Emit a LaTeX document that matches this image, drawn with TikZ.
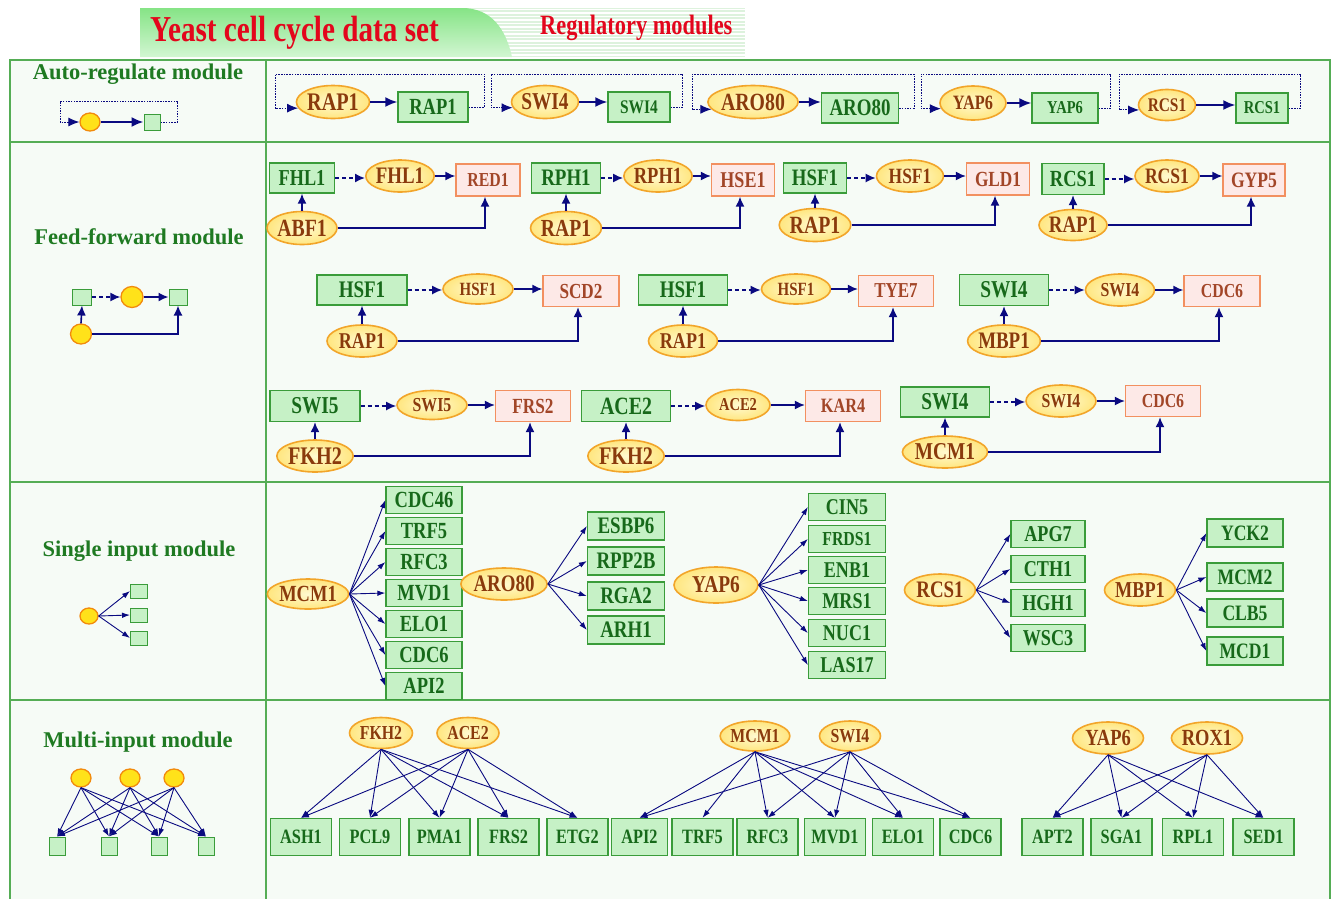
\documentclass[tikz,border=0pt]{standalone}
\usepackage{fontspec}
\setmainfont{Liberation Serif}
\newfontfamily\nodefont[FakeStretch=0.8]{Liberation Serif}
\newfontfamily\titlefont[FakeStretch=0.8]{Liberation Serif}
\usetikzlibrary{shapes.geometric,arrows.meta,calc}

\definecolor{gfill}{HTML}{C6F1C6}
\definecolor{gline}{HTML}{3A9C3A}
\definecolor{gtext}{HTML}{17691A}
\definecolor{yfillin}{HTML}{FFFAD0}
\definecolor{yfillout}{HTML}{FFE680}
\definecolor{yline}{HTML}{F2A52A}
\definecolor{ytext}{HTML}{8A3A0C}
\definecolor{pfill}{HTML}{FDE9E7}
\definecolor{pline}{HTML}{F29060}
\definecolor{ptext}{HTML}{A24628}
\definecolor{navy}{HTML}{0A0A80}
\definecolor{framegreen}{HTML}{55AD55}
\definecolor{panel}{HTML}{F6FBF6}
\definecolor{labgreen}{HTML}{1F7A22}
\definecolor{titlered}{HTML}{E3061C}
\definecolor{iconyel}{HTML}{FFE21A}
\definecolor{iconorg}{HTML}{F28A0C}
\definecolor{bannertop}{HTML}{86E486}
\definecolor{bannerbot}{HTML}{D2F6D2}
\definecolor{bannerpale}{HTML}{DDF2DD}

\tikzset{
  gb/.style={rectangle, draw=gline, fill=gfill, text=gtext, line width=1.3pt, inner sep=0pt},
  pb/.style={rectangle, draw=pline, fill=pfill, text=ptext, line width=1.3pt, inner sep=0pt},
  ye/.style={ellipse, draw=yline, inner color=yfillin, outer color=yfillout, text=ytext, line width=1.6pt, inner sep=0pt},
  sz/.style n args={2}{minimum width=#1pt, minimum height=#2pt},
  fs/.style={font=\nodefont\bfseries\pgfmathsetmacro\fsz{1.1*#1}\fontsize{\fsz}{\fsz}\selectfont},
  lab/.style={text=labgreen, font=\bfseries\fontsize{22.5}{22.5}\selectfont, inner sep=0pt},
  icirc/.style={ellipse, draw=iconorg, fill=iconyel, line width=1.3pt, inner sep=0pt},
  isq/.style={rectangle, draw=gline, fill=gfill, line width=1pt, inner sep=0pt},
  a1/.style={draw=navy, line width=2pt, -{Latex[length=12pt,width=10pt]}},
  lp/.style={draw=navy, line width=1pt, dash pattern=on 1.5pt off 1.2pt, -{Latex[length=11pt,width=9pt]}},
  ffs/.style={draw=navy, line width=1.6pt, -{Latex[length=10pt,width=9pt]}},
  ffd/.style={ffs, dash pattern=on 4pt off 3pt},
  fan/.style={draw=navy, line width=0.9pt, -{Latex[length=8pt,width=5.5pt]}},
}

\begin{document}
\begin{tikzpicture}[x=1pt,y=-1pt]
\useasboundingbox (0,0) rectangle (1336,898);
\fill[white] (0,0) rectangle (1336,898);

% ---------- banner ----------
\fill[bannerpale] (140,8) rectangle (745,57);
\foreach \yy in {9.5,13,...,56} \draw[white, line width=1.5pt] (140,\yy) -- (745,\yy);
\shade[top color=bannertop, bottom color=bannerbot]
  (140,8) -- (462,8) .. controls (492,8) and (506,30) .. (512,57) -- (140,57) -- cycle;
\node[text=titlered, font=\titlefont\bfseries\fontsize{36.5}{36.5}\selectfont, anchor=west, inner sep=0pt] (title) at (150,33) {Yeast cell cycle data set};
\node[text=titlered, font=\titlefont\bfseries\fontsize{28}{28}\selectfont, anchor=west, inner sep=0pt] (subtitle) at (540,28) {Regulatory modules};

% ---------- frame ----------
\fill[panel] (10,60) rectangle (1330,902);
\draw[framegreen, line width=2pt] (10,60) rectangle (1330,902);
\draw[framegreen, line width=2pt] (266,60) -- (266,902);
\draw[framegreen, line width=2pt] (10,142) -- (1330,142);
\draw[framegreen, line width=2pt] (10,482) -- (1330,482);
\draw[framegreen, line width=2pt] (10,700) -- (1330,700);

% ---------- row labels ----------
\node[lab] (l1) at (138,74) {Auto-regulate module};
\node[lab] (l2) at (139,237) {Feed-forward module};
\node[lab] (l3) at (139,551) {Single input module};
\node[lab] (l4) at (138,742) {Multi-input module};

% ---------- icons ----------
% auto-regulation
\node[icirc, sz={20}{18}] (ic1) at (90,122) {};
\node[isq, sz={16}{16}] (iq1) at (152,122) {};
\draw[a1] (ic1.east) -- (iq1.west);
\draw[lp] (iq1.east) -- ++(17,0) |- (60,101) |- (ic1.west);
% feed-forward
\node[isq, sz={19}{16}] (fq1) at (82,297) {};
\node[icirc, sz={22}{21}] (fci) at (132,297) {};
\node[isq, sz={18}{16}] (fq2) at (178,297) {};
\node[icirc, sz={21}{20}] (fcb) at (81,334) {};
\draw[ffd] (fq1.east) -- (fci.west);
\draw[ffs] (fci.east) -- (fq2.west);
\draw[ffs] (fcb.north) -- (fq1.south);
\draw[ffs] (fcb.east) -| (fq2.south);
% single input
\node[icirc, sz={18}{16}] (sci) at (89,616) {};
\foreach \yy [count=\i] in {591,615,638} {
  \node[isq, sz={17}{14}] (sq\i) at (139,\yy) {};
  \draw[fan] (sci.east) -- (sq\i.west);
}
% multi input
\foreach \xx [count=\i] in {81,130,174} \node[icirc, sz={20}{18}] (mc\i) at (\xx,778) {};
\foreach \xx [count=\j] in {57,109,159,206} \node[isq, sz={16}{18}] (mq\j) at (\xx,846) {};
\foreach \i in {1,2,3} \foreach \j in {1,2,3,4} \draw[fan] (mc\i.south) -- (mq\j.north);

% ---------- auto-regulate module ----------
\node[ye, sz={70}{33}, fs=23] (ae1) at (333,102) {RAP1};
\node[gb, sz={70}{30}, fs=21] (ab1) at (433,107) {RAP1};
\node[ye, sz={64}{33}, fs=22] (ae2) at (545,102) {SWI4};
\node[gb, sz={62}{30}, fs=17.5] (ab2) at (639,107) {SWI4};
\node[ye, sz={77}{33}, fs=22.5] (ae3) at (753,102) {ARO80};
\node[gb, sz={77}{30}, fs=21.5] (ab3) at (860,108) {ARO80};
\node[ye, sz={66}{34}, fs=18.5] (ae4) at (973,103) {YAP6};
\node[gb, sz={66}{30}, fs=16.5] (ab4) at (1065,108) {YAP6};
\node[ye, sz={57}{31}, fs=17.5] (ae5) at (1167,105) {RCS1};
\node[gb, sz={52}{30}, fs=16.5] (ab5) at (1262,108) {RCS1};
\foreach \i in {1,...,5} \draw[a1] (ae\i.east) -- (ae\i.east -| ab\i.west);
\draw[lp] (ab1.east) -- ++(16,0) |- (275,74) |- (ae1.190);
\draw[lp] (ab2.east) -- ++(12,0) |- (491,74) |- (ae2.190);
\draw[lp] (ab3.east) -- ++(15,0) |- (692,74) |- (ae3.190);
\draw[lp] (ab4.east) -- ++(12,0) |- (921,74) |- (ae4.190);
\draw[lp] (ab5.east) -- ++(12,0) |- (1119,74) |- (ae5.190);

% ---------- feed-forward module ----------
% first line
\node[gb, sz={65}{30}, fs=20.7] (fa1) at (302,178) {FHL1};
\node[ye, sz={65}{32}, fs=21.5] (fb1) at (400,176) {FHL1};
\node[pb, sz={64}{32}, fs=18] (fc1) at (488,180) {RED1};
\node[ye, sz={68}{33}, fs=22.5] (fr1) at (302,228) {ABF1};

\node[gb, sz={69}{30}, fs=21.5] (fa2) at (566,178) {RPH1};
\node[ye, sz={66}{32}, fs=21] (fb2) at (658,176) {RPH1};
\node[pb, sz={63}{32}, fs=20.5] (fc2) at (743,180) {HSE1};
\node[ye, sz={67}{33}, fs=22.3] (fr2) at (566,228) {RAP1};

\node[gb, sz={63}{30}, fs=21.4] (fa3) at (815,178) {HSF1};
\node[ye, sz={67}{32}, fs=19.8] (fb3) at (910,176) {HSF1};
\node[pb, sz={63}{32}, fs=19.6] (fc3) at (998,179) {GLD1};
\node[ye, sz={67}{33}, fs=22.5] (fr3) at (815,225) {RAP1};

\node[gb, sz={62}{31}, fs=21] (fa4) at (1073,179) {RCS1};
\node[ye, sz={64}{32}, fs=20] (fb4) at (1167,176) {RCS1};
\node[pb, sz={62}{32}, fs=20] (fc4) at (1254,180) {GYP5};
\node[ye, sz={63}{31}, fs=21.4] (fr4) at (1073,225) {RAP1};

% second line
\node[gb, sz={90}{30}, fs=21.6] (fa5) at (362,290) {HSF1};
\node[ye, sz={70}{30}, fs=17] (fb5) at (478,289) {HSF1};
\node[pb, sz={76}{31}, fs=19.5] (fc5) at (581,291) {SCD2};
\node[ye, sz={70}{32}, fs=20.5] (fr5) at (362,341) {RAP1};

\node[gb, sz={89}{30}, fs=21.6] (fa6) at (683,290) {HSF1};
\node[ye, sz={69}{30}, fs=17] (fb6) at (796,289) {HSF1};
\node[pb, sz={75}{31}, fs=19.3] (fc6) at (896,291) {TYE7};
\node[ye, sz={69}{32}, fs=20.5] (fr6) at (683,341) {RAP1};

\node[gb, sz={89}{31}, fs=22] (fa7) at (1004,290) {SWI4};
\node[ye, sz={69}{32}, fs=18] (fb7) at (1120,290) {SWI4};
\node[pb, sz={76}{31}, fs=18] (fc7) at (1222,291) {CDC6};
\node[ye, sz={72}{32}, fs=21.5] (fr7) at (1004,341) {MBP1};

% third line
\node[gb, sz={90}{31}, fs=22] (fa8) at (315,406) {SWI5};
\node[ye, sz={70}{29}, fs=18] (fb8) at (432,405) {SWI5};
\node[pb, sz={75}{31}, fs=19.6] (fc8) at (533,406) {FRS2};
\node[ye, sz={71}{32}, fs=23] (fr8) at (315,456) {FKH2};

\node[gb, sz={89}{31}, fs=22.6] (fa9) at (626,406) {ACE2};
\node[ye, sz={64}{31}, fs=16.5] (fb9) at (738,405) {ACE2};
\node[pb, sz={75}{31}, fs=18.5] (fc9) at (843,406) {KAR4};
\node[ye, sz={72}{32}, fs=23] (fr9) at (626,456) {FKH2};

\node[gb, sz={89}{30}, fs=22] (fa10) at (945,402) {SWI4};
\node[ye, sz={70}{32}, fs=18] (fb10) at (1061,401) {SWI4};
\node[pb, sz={75}{31}, fs=18] (fc10) at (1163,401) {CDC6};
\node[ye, sz={71}{32}, fs=22] (fr10) at (945,452) {MCM1};

\foreach \i in {1,...,10} {
  \draw[ffd] (fa\i.east) -- (fa\i.east -| fb\i.west);
  \draw[ffs] (fb\i.east) -- (fb\i.east -| fc\i.west);
  \draw[ffs] (fr\i.north) -- (fa\i.south);
  \draw[ffs] (fr\i.east) -| ([xshift=-3pt]fc\i.south);
}

% ---------- single input module ----------
\node[ye, sz={69}{30}, fs=21] (s1) at (308,594) {MCM1};
\foreach \t [count=\i] in {CDC46,TRF5,RFC3,MVD1,ELO1,CDC6,API2} {
  \node[gb, sz={76}{27}, fs=21] (s1t\i) at (424,{500+31*(\i-1)}) {\t};
  \draw[fan] (s1.east) -- (s1t\i.west);
}
\node[ye, sz={70}{32}, fs=21.5] (s2) at (504,584) {ARO80};
\foreach \t/\yy [count=\i] in {ESBP6/526,RPP2B/561,RGA2/596,ARH1/630} {
  \node[gb, sz={77}{28}, fs=21.5] (s2t\i) at (626,\yy) {\t};
  \draw[fan] (s2.east) -- (s2t\i.west);
}
\node[ye, sz={84}{36}, fs=22] (s3) at (716,585) {YAP6};
\foreach \t/\yy/\ff [count=\i] in {CIN5/507/20.5,FRDS1/539/18,ENB1/570/20.5,MRS1/601/20.5,NUC1/633/20.5,LAS17/665/20.5} {
  \node[gb, sz={77}{27}, fs=\ff] (s3t\i) at (847,\yy) {\t};
  \draw[fan] (s3.east) -- (s3t\i.west);
}
\node[ye, sz={71}{32}, fs=21.5] (s4) at (940,590) {RCS1};
\foreach \t/\yy [count=\i] in {APG7/534,CTH1/569,HGH1/603,WSC3/638} {
  \node[gb, sz={74}{27}, fs=20.6] (s4t\i) at (1048,\yy) {\t};
  \draw[fan] (s4.east) -- (s4t\i.west);
}
\node[ye, sz={71}{32}, fs=20.7] (s5) at (1140,590) {MBP1};
\foreach \t/\yy [count=\i] in {YCK2/533,MCM2/577,CLB5/613,MCD1/651} {
  \node[gb, sz={76}{28}, fs=20] (s5t\i) at (1245,\yy) {\t};
  \draw[fan] (s5.east) -- (s5t\i.west);
}

% ---------- multi-input module ----------
\node[ye, sz={63}{31}, fs=18] (m1) at (381,733) {FKH2};
\node[ye, sz={62}{31}, fs=18] (m2) at (468,733) {ACE2};
\node[ye, sz={60}{30}, fs=18] (m3) at (755,736) {MCM1};
\node[ye, sz={61}{30}, fs=18] (m4) at (850,736) {SWI4};
\node[ye, sz={71}{32}, fs=21] (m5) at (1108,738) {YAP6};
\node[ye, sz={69}{32}, fs=21] (m6) at (1207,738) {ROX1};
\foreach \t/\xx/\ww [count=\i] in {ASH1/301/61,PCL9/370/61,PMA1/439.5/61,FRS2/508.5/61,ETG2/577.5/61,API2/639.5/56,TRF5/702.5/61,RFC3/767.5/61,MVD1/835/61,ELO1/903/61,CDC6/970.5/61,APT2/1052.5/61,SGA1/1121.5/61,RPL1/1193/61,SED1/1263.5/61}
  \node[gb, sz={\ww}{37}, fs=18.5] (mt\i) at (\xx,837) {\t};
\foreach \s in {1,2} \foreach \j in {1,...,5} \draw[fan] (m\s.south) -- (mt\j.north);
\foreach \j in {6,...,11} \draw[fan] (m3.south) -- (mt\j.north);
\foreach \j in {6,8,9,10,11} \draw[fan] (m4.south) -- (mt\j.north);
\foreach \s in {5,6} \foreach \j in {12,...,15} \draw[fan] (m\s.south) -- (mt\j.north);
\end{tikzpicture}
\end{document}
